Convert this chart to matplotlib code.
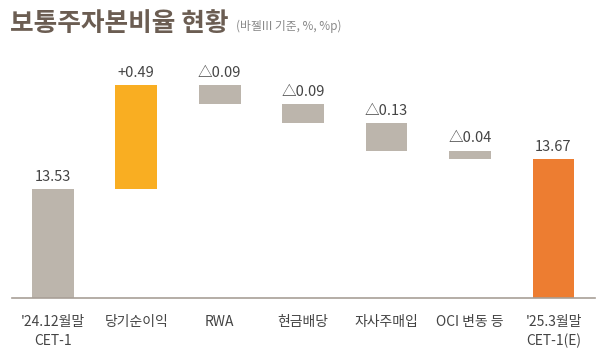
import matplotlib
matplotlib.use("Agg")
import matplotlib.pyplot as plt

plt.rcParams['font.family'] = ['Noto Sans CJK KR', 'DejaVu Sans']

categories = ["'24.12월말\nCET-1", "당기순이익", "RWA", "현금배당", "자사주매입", "OCI 변동 등", "'25.3월말\nCET-1(E)"]
start_value = 13.53
deltas = [0.49, -0.09, -0.09, -0.13, -0.04]
end_value = 13.67
delta_labels = ["+0.49", "△0.09", "△0.09", "△0.13", "△0.04"]
total_labels = ["13.53", "13.67"]

GRAY = "#bcb5ac"
YELLOW = "#f9ae22"
ORANGE = "#ed7d31"
TXT = "#444444"

fig = plt.figure(figsize=(6, 3.58), dpi=100)
ax = fig.add_axes([0.02, (358 - 298) / 358, 0.972, (298 - 47) / 358])
ymin, ymax = 13.015, 14.2
ax.set_ylim(ymin, ymax)
ax.set_xlim(-0.49, 6.5)

w = 0.5
ax.bar(0, start_value - ymin, bottom=ymin, width=w, color=GRAY)
ax.text(0, start_value + 0.025, total_labels[0], ha='center', va='bottom', fontsize=10.5, color=TXT)

level = start_value
for i, (d, lab) in enumerate(zip(deltas, delta_labels), start=1):
    lo = min(level, level + d)
    hi = max(level, level + d)
    ax.bar(i, hi - lo, bottom=lo, width=w, color=YELLOW if d > 0 else GRAY)
    ax.text(i, hi + 0.025, lab, ha='center', va='bottom', fontsize=10.5, color=TXT)
    level += d

ax.bar(6, end_value - ymin, bottom=ymin, width=w, color=ORANGE)
ax.text(6, end_value + 0.025, total_labels[1], ha='center', va='bottom', fontsize=10.5, color=TXT)

for s in ['top', 'right', 'left']:
    ax.spines[s].set_visible(False)
ax.spines['bottom'].set_color('#a89f97')
ax.spines['bottom'].set_linewidth(1.2)
ax.set_yticks([])
ax.set_xticks(range(len(categories)))
ax.set_xticklabels(categories, fontsize=10, color=TXT, linespacing=1.45)
ax.tick_params(axis='x', length=0, pad=12)

fig.text(0.017, 0.935, "보통주자본비율 현황", fontsize=18.5, fontweight='bold', color='#6b5d52', va='center', ha='left')
fig.text(0.393, 0.925, "(바젤III 기준, %, %p)", fontsize=8.5, color='#8a8a8a', va='center', ha='left')

fig.savefig("out.png", dpi=100)
